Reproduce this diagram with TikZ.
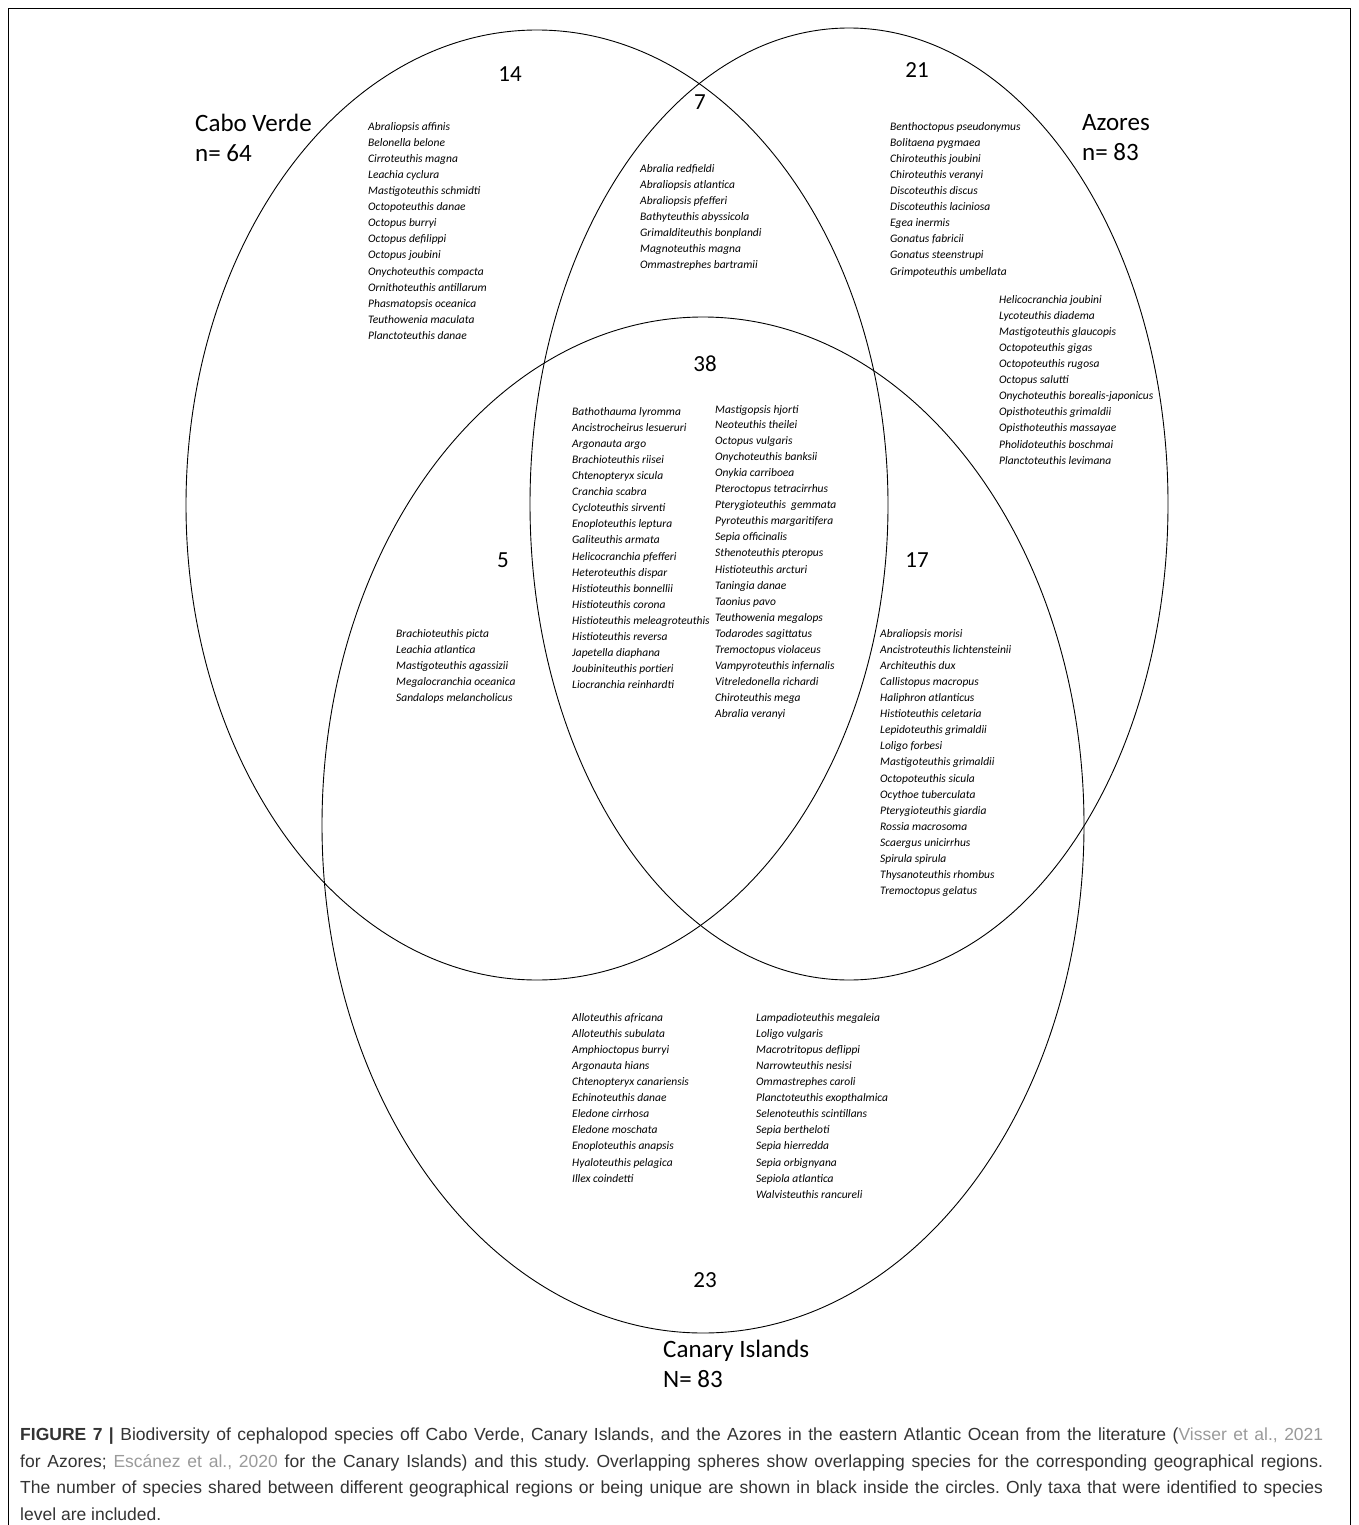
\documentclass[tikz,border=0pt]{standalone}
\usepackage{fontspec}
\setmainfont{Carlito}
\newfontfamily\capfont{Liberation Sans}
\usetikzlibrary{positioning}
\definecolor{capgray}{HTML}{333333}
\definecolor{refgray}{HTML}{9A9A9A}
\setlength{\parindent}{0pt}
\frenchspacing

\begin{document}
\begin{tikzpicture}[x=1pt, y=-1pt,
  species/.style={anchor=north west, align=left, inner sep=0pt,
    font=\fontsize{11.5}{16.1}\selectfont\itshape},
  count/.style={inner sep=0pt, font=\fontsize{23}{26}\selectfont},
  region/.style={anchor=west, align=left, inner sep=0pt,
    font=\fontsize{25}{30}\selectfont}]
  \useasboundingbox (0,0) rectangle (1358,1525);

  % Frame
  \draw[line width=0.8pt] (8,1525) -- (8,8) -- (1350,8) -- (1350,1525);

  % Regions
  \draw[line width=0.9pt] (537,505) ellipse [x radius=351, y radius=475];
  \draw[line width=0.9pt] (849,504) ellipse [x radius=319, y radius=476];
  \draw[line width=0.9pt] (703,825) ellipse [x radius=381, y radius=508];

  \node[region] (cv) at (195,138) {Cabo Verde\\n= 64};
  \node[region] (az) at (1082,138) {Azores\\n= 83};
  \node[region] (ci) at (663,1364) {Canary Islands\\N= 83};

  % Species counts
  \node[count] (n_cv) at (510,74) {14};
  \node[count] (n_cvaz) at (700,102) {7};
  \node[count] (n_az) at (917,70) {21};
  \node[count] (n_all) at (705,364) {38};
  \node[count] (n_cvci) at (503,560) {5};
  \node[count] (n_azci) at (917,560) {17};
  \node[count] (n_ci) at (705,1280) {23};

  % Cabo Verde only
  \node[species] (s_cv) at (368,122) {Abraliopsis affinis\\Belonella belone\\
    Cirroteuthis magna\\Leachia cyclura\\Mastigoteuthis schmidti\\
    Octopoteuthis danae\\Octopus burryi\\Octopus defilippi\\Octopus joubini\\
    Onychoteuthis compacta\\Ornithoteuthis antillarum\\Phasmatopsis oceanica\\
    Teuthowenia maculata\\Planctoteuthis danae};

  % Cabo Verde and Azores
  \node[species] (s_cvaz) at (640,164) {Abralia redfieldi\\Abraliopsis atlantica\\
    Abraliopsis pfefferi\\Bathyteuthis abyssicola\\Grimalditeuthis bonplandi\\
    Magnoteuthis magna\\Ommastrephes bartramii};

  % Azores only
  \node[species] (s_az) at (890,122) {Benthoctopus pseudonymus\\Bolitaena pygmaea\\
    Chiroteuthis joubini\\Chiroteuthis veranyi\\Discoteuthis discus\\
    Discoteuthis laciniosa\\Egea inermis\\Gonatus fabricii\\
    Gonatus steenstrupi\\Grimpoteuthis umbellata};
  \node[species] (s_az2) at (999,295) {Helicocranchia joubini\\Lycoteuthis diadema\\
    Mastigoteuthis glaucopis\\Octopoteuthis gigas\\Octopoteuthis rugosa\\
    Octopus salutti\\Onychoteuthis borealis-japonicus\\Opisthoteuthis grimaldii\\
    Opisthoteuthis massayae\\Pholidoteuthis boschmai\\Planctoteuthis levimana};

  % All three
  \node[species] (s_all) at (572,407) {Bathothauma lyromma\\Ancistrocheirus lesueruri\\
    Argonauta argo\\Brachioteuthis riisei\\Chtenopteryx sicula\\Cranchia scabra\\
    Cycloteuthis sirventi\\Enoploteuthis leptura\\Galiteuthis armata\\
    Helicocranchia pfefferi\\Heteroteuthis dispar\\Histioteuthis bonnellii\\
    Histioteuthis corona\\Histioteuthis meleagroteuthis\\Histioteuthis reversa\\
    Japetella diaphana\\Joubiniteuthis portieri\\Liocranchia reinhardti};
  \node[species] (s_all2) at (715,405) {Mastigopsis hjorti};
  \node[species] (s_all3) at (715,420) {Neoteuthis theilei\\Octopus vulgaris\\
    Onychoteuthis banksii\\Onykia carriboea\\Pteroctopus tetracirrhus\\
    Pterygioteuthis\ \ gemmata\\Pyroteuthis margaritifera\\Sepia officinalis\\
    Sthenoteuthis pteropus\\Histioteuthis arcturi\\Taningia danae\\Taonius pavo\\
    Teuthowenia megalops\\Todarodes sagittatus\\Tremoctopus violaceus\\
    Vampyroteuthis infernalis\\Vitreledonella richardi\\Chiroteuthis mega\\
    Abralia veranyi};

  % Cabo Verde and Canary Islands
  \node[species] (s_cvci) at (396,629) {Brachioteuthis picta\\Leachia atlantica\\
    Mastigoteuthis agassizii\\Megalocranchia oceanica\\Sandalops melancholicus};

  % Azores and Canary Islands
  \node[species] (s_azci) at (880,629) {Abraliopsis morisi\\
    Ancistroteuthis lichtensteinii\\Architeuthis dux\\Callistopus macropus\\
    Haliphron atlanticus\\Histioteuthis celetaria\\Lepidoteuthis grimaldii\\
    Loligo forbesi\\Mastigoteuthis grimaldii\\Octopoteuthis sicula\\
    Ocythoe tuberculata\\Pterygioteuthis giardia\\Rossia macrosoma\\
    Scaergus unicirrhus\\Spirula spirula\\Thysanoteuthis rhombus\\
    Tremoctopus gelatus};

  % Canary Islands only
  \node[species] (s_ci) at (572,1013) {Alloteuthis africana\\Alloteuthis subulata\\
    Amphioctopus burryi\\Argonauta hians\\Chtenopteryx canariensis\\
    Echinoteuthis danae\\Eledone cirrhosa\\Eledone moschata\\
    Enoploteuthis anapsis\\Hyaloteuthis pelagica\\Illex coindetti};
  \node[species] (s_ci2) at (756,1013) {Lampadioteuthis megaleia\\Loligo vulgaris\\
    Macrotritopus deflippi\\Narrowteuthis nesisi\\Ommastrephes caroli\\
    Planctoteuthis exopthalmica\\Selenoteuthis scintillans\\Sepia bertheloti\\
    Sepia hierredda\\Sepia orbignyana\\Sepiola atlantica\\Walvisteuthis rancureli};

  % Caption
  \node[anchor=north west, inner sep=0pt, text width=1303pt, align=justify,
    text=capgray, font=\capfont\fontsize{17.5}{26.5}\selectfont]
    (caption) at (20,1428) {\textbf{FIGURE 7 |} Biodiversity of cephalopod species
    off Cabo Verde, Canary Islands, and the Azores in the eastern Atlantic Ocean
    from the literature (\textcolor{refgray}{Visser et al., 2021}\linebreak
    for Azores; \textcolor{refgray}{Escánez et al., 2020} for the Canary Islands)
    and this study. Overlapping spheres show overlapping species for the
    corresponding geographical regions.\linebreak
    The number of species shared between different geographical regions or being
    unique are shown in black inside the circles. Only taxa that were identified
    to species\linebreak
    level are included.};

\end{tikzpicture}
\end{document}
